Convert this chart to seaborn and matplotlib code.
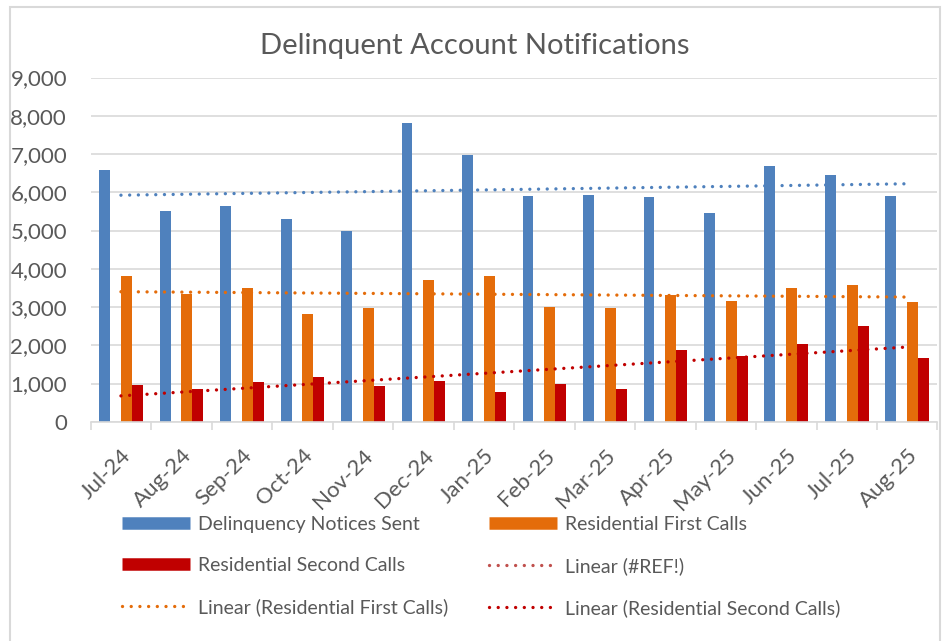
# Delinquent Account Notifications - barras agrupadas + linhas de tendencia

import numpy as np
import pandas as pd
import matplotlib
matplotlib.use('Agg')
import matplotlib.pyplot as plt
import seaborn as sns
from matplotlib.lines import Line2D
from matplotlib.patches import Rectangle
from matplotlib.ticker import FuncFormatter

# dados
meses = ['Jul-24', 'Aug-24', 'Sep-24', 'Oct-24', 'Nov-24', 'Dec-24', 'Jan-25',
         'Feb-25', 'Mar-25', 'Apr-25', 'May-25', 'Jun-25', 'Jul-25', 'Aug-25']
avisos = [6580, 5500, 5630, 5290, 5000, 7810, 6970,
          5900, 5920, 5890, 5470, 6700, 6460, 5910]
primeira = [3820, 3340, 3490, 2810, 2970, 3720, 3800,
            2990, 2980, 3320, 3170, 3510, 3570, 3140]
segunda = [960, 850, 1030, 1160, 940, 1060, 770,
           990, 850, 1870, 1730, 2040, 2510, 1660]
ref = [0] * 14  # serie #REF! vazia (ocupa o espaco entre azul e laranja)

series = ['Delinquency Notices Sent', '#REF!',
          'Residential First Calls', 'Residential Second Calls']
cores = {'Delinquency Notices Sent': '#4F81BD', '#REF!': '#C0504D',
         'Residential First Calls': '#E46C0A', 'Residential Second Calls': '#C00000'}
cor_texto = '#595959'
cor_grade = '#D9D9D9'

df = pd.DataFrame({
    'mes': meses * 4,
    'serie': [s for s in series for _ in meses],
    'valor': avisos + ref + primeira + segunda,
})

plt.rcParams['font.family'] = ['Lato', 'DejaVu Sans']

fig = plt.figure(figsize=(9.42, 6.41), dpi=100)
ax = fig.add_axes([0.0963, 0.342, 0.8989, 0.537])

sns.barplot(data=df, x='mes', y='valor', hue='serie', hue_order=series,
            palette=cores, width=0.72, saturation=1, linewidth=0,
            legend=False, ax=ax, zorder=2)

# linhas de tendencia (linear)
pontilhado = dict(ls=(0, (0.01, 2.6)), lw=2.4, dash_capstyle='round')
x = np.arange(len(meses))
for valores, serie in [(avisos, 'Delinquency Notices Sent'),
                       (primeira, 'Residential First Calls'),
                       (segunda, 'Residential Second Calls')]:
    sns.regplot(x=x, y=np.array(valores), scatter=False, ci=None, ax=ax,
                color=cores[serie], line_kws={**pontilhado, 'zorder': 3})

ax.set_xlim(-0.5, 13.5)
ax.set_ylim(0, 9000)
ax.set_yticks(range(0, 9001, 1000))
ax.yaxis.set_major_formatter(FuncFormatter(lambda v, p: f'{int(v):,}'))
ax.grid(axis='y', color=cor_grade, lw=1.2, zorder=0)
ax.set_axisbelow(True)
ax.set_xlabel('')
ax.set_ylabel('')

for lado in ['top', 'right', 'left']:
    ax.spines[lado].set_visible(False)
ax.spines['bottom'].set_color(cor_grade)
ax.spines['bottom'].set_linewidth(1.2)

ax.tick_params(axis='y', length=0, pad=17, labelsize=16, labelcolor=cor_texto)
ax.tick_params(axis='x', which='major', length=0, pad=17, labelsize=16,
               labelcolor=cor_texto)
ax.set_xticks(np.arange(-0.5, 14, 1), minor=True)
ax.tick_params(axis='x', which='minor', length=6, color=cor_grade, width=1.2)
for lbl in ax.get_xticklabels():
    lbl.set_rotation(45)
    lbl.set_ha('right')
    lbl.set_rotation_mode('anchor')

# titulo
fig.text(0.504, 1 - 46 / 641, 'Delinquent Account Notifications',
         ha='center', va='center', fontsize=21, color=cor_texto)

# legenda (ordem por coluna)
h = [
    Line2D([], [], color=cores['Delinquency Notices Sent'], lw=9, solid_capstyle='butt'),
    Line2D([], [], color=cores['Residential Second Calls'], lw=9, solid_capstyle='butt'),
    Line2D([], [], color=cores['Residential First Calls'], **pontilhado),
    Line2D([], [], color=cores['Residential First Calls'], lw=9, solid_capstyle='butt'),
    Line2D([], [], color=cores['#REF!'], **pontilhado),
    Line2D([], [], color=cores['Residential Second Calls'], **pontilhado),
]
rotulos = ['Delinquency Notices Sent', 'Residential Second Calls',
           'Linear (Residential First Calls)', 'Residential First Calls',
           'Linear (#REF!)', 'Linear (Residential Second Calls)']
fig.legend(h, rotulos, ncol=2, loc='upper left', bbox_to_anchor=(122 / 942, 1 - 516 / 641),
           frameon=False, fontsize=14, labelcolor=cor_texto, borderpad=0,
           borderaxespad=0, handlelength=3.5, handletextpad=0.4,
           labelspacing=1.24, columnspacing=2.1)

# borda do grafico
fig.patches.append(Rectangle((10 / 942, -0.01), 930 / 942, 1 - 7 / 641 + 0.01,
                             transform=fig.transFigure, fill=False,
                             edgecolor=cor_grade, lw=1.5))

fig.savefig('out.png', dpi=100)
